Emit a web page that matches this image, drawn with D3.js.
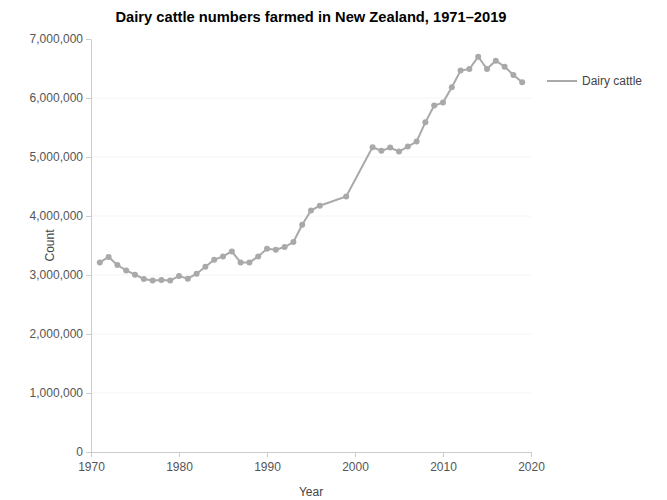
<!DOCTYPE html>
<html>
<head>
<meta charset="utf-8">
<script src="https://cdn.jsdelivr.net/npm/d3@7"></script>
<style>
  body { margin: 0; background: #fff; }
  svg { font-family: "Liberation Sans", Arial, sans-serif; }
</style>
</head>
<body>
<div id="chart"></div>
<script>
const years = [1971, 1972, 1973, 1974, 1975, 1976, 1977, 1978, 1979, 1980,
    1981, 1982, 1983, 1984, 1985, 1986, 1987, 1988, 1989, 1990,
    1991, 1992, 1993, 1994, 1995, 1996, 1999, 2002, 2003, 2004,
    2005, 2006, 2007, 2008, 2009, 2010, 2011, 2012, 2013, 2014,
    2015, 2016, 2017, 2018, 2019];
const dairyCattle = [3213000, 3305000, 3169000, 3078000, 3005000, 2932000, 2908000, 2915000, 2908000, 2983000,
    2937000, 3022000, 3140000, 3259000, 3315000, 3400000, 3213000, 3213000, 3315000, 3445000,
    3428000, 3474000, 3559000, 3851000, 4094000, 4173000, 4331000, 5167000, 5104000, 5160000,
    5092000, 5177000, 5262000, 5590000, 5871000, 5922000, 6183000, 6464000, 6492000, 6700000,
    6492000, 6633000, 6531000, 6391000, 6267000];
const xTicks = [1970, 1980, 1990, 2000, 2010, 2020];
const yTicks = [0, 1000000, 2000000, 3000000, 4000000, 5000000, 6000000, 7000000];

const width = 667, height = 500;
const margin = {top: 39, right: 136, bottom: 48, left: 91};
const lineColour = "#a9a9a9";

const svg = d3.select("#chart")
      .append("svg")
      .attr("width", width)
      .attr("height", height);

const x = d3.scaleLinear()
      .domain([1970, 2020])
      .range([margin.left, width - margin.right]);

const y = d3.scaleLinear()
      .domain([0, 7000000])
      .range([height - margin.bottom, margin.top]);

// faint gridlines
svg.append("g")
    .selectAll("line")
    .data(yTicks.filter(d => d > 0 && d < 7000000))
    .enter()
    .append("line")
    .attr("x1", x(1970))
    .attr("x2", x(2020))
    .attr("y1", d => y(d))
    .attr("y2", d => y(d))
    .attr("stroke", "#f4f4f4")
    .attr("stroke-width", 1);

const xAxis = svg.append("g")
      .attr("transform", `translate(0,${y(0)})`)
      .call(d3.axisBottom(x).tickValues(xTicks).tickFormat(d3.format("d")).tickSize(5).tickSizeOuter(0));

const yAxis = svg.append("g")
      .attr("transform", `translate(${x(1970)},0)`)
      .call(d3.axisLeft(y).tickValues(yTicks).tickFormat(d3.format(",")).tickSize(5).tickSizeOuter(0));

[xAxis, yAxis].forEach(function (g) {
    g.selectAll("path, line").attr("stroke", "#cccccc");
    g.selectAll("text")
        .attr("fill", "#555")
        .style("font-size", "12px")
        .style("font-family", "\"Liberation Sans\", Arial, sans-serif");
});
xAxis.selectAll("text").attr("dy", "0.9em");

const line = d3.line()
      .x((d, i) => x(years[i]))
      .y(d => y(d));

svg.append("path")
    .datum(dairyCattle)
    .attr("d", line)
    .attr("fill", "none")
    .attr("stroke", lineColour)
    .attr("stroke-width", 2);

svg.selectAll("circle.point")
    .data(dairyCattle)
    .enter()
    .append("circle")
    .attr("class", "point")
    .attr("cx", (d, i) => x(years[i]))
    .attr("cy", d => y(d))
    .attr("r", 3)
    .attr("fill", lineColour);

// title
svg.append("text")
    .attr("x", (x(1970) + x(2020)) / 2)
    .attr("y", 22)
    .attr("text-anchor", "middle")
    .style("font-size", "14.7px")
    .style("font-weight", "bold")
    .attr("fill", "#000")
    .text("Dairy cattle numbers farmed in New Zealand, 1971\u20132019");

// axis titles
svg.append("text")
    .attr("x", (x(1970) + x(2020)) / 2)
    .attr("y", 496)
    .attr("text-anchor", "middle")
    .style("font-size", "12px")
    .attr("fill", "#444")
    .text("Year");

svg.append("text")
    .attr("transform", `translate(54,${(y(0) + y(7000000)) / 2}) rotate(-90)`)
    .attr("text-anchor", "middle")
    .style("font-size", "12px")
    .attr("fill", "#444")
    .text("Count");

// legend
const legend = svg.append("g").attr("transform", "translate(547,81)");
legend.append("line")
    .attr("x1", 0).attr("x2", 30)
    .attr("stroke", lineColour)
    .attr("stroke-width", 2);
legend.append("text")
    .attr("x", 35)
    .attr("dy", "0.35em")
    .style("font-size", "12px")
    .attr("fill", "#444")
    .text("Dairy cattle");
</script>
</body>
</html>
